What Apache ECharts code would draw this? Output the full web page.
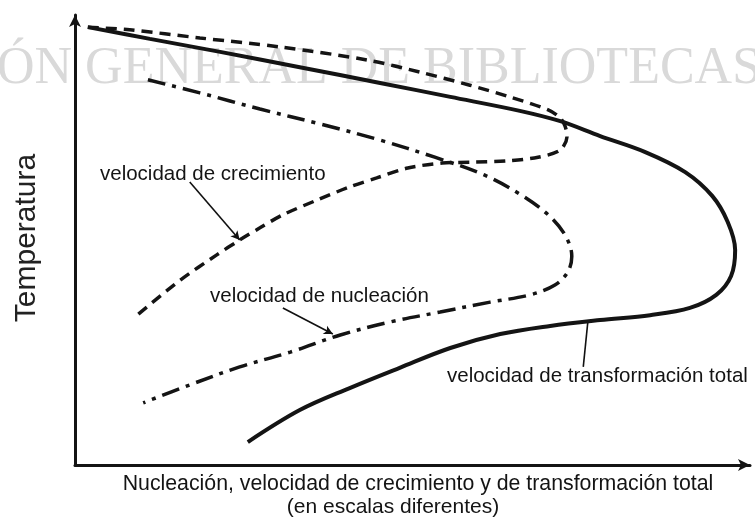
<!DOCTYPE html>
<html>
<head>
<meta charset="utf-8">
<script src="https://cdn.jsdelivr.net/npm/echarts@6/dist/echarts.min.js"></script>
<style>
html, body { margin: 0; padding: 0; background: #fff; }
#main { width: 755px; height: 524px; }
</style>
</head>
<body>
<div id="main"></div>
<script>
// values (arbitrary 0..100 scales, both axes)
var transX = [1.9, 11.1, 21.5, 33.3, 45.2, 55.6, 65.9, 71.9, 77.8, 84.4, 90.4, 94.4, 96.7, 97.8, 97.2, 95.0, 91.1, 85.2, 77.8, 70.4, 63.0, 55.6, 48.1, 40.7, 33.3, 25.6];
var transY = [97.3, 94.7, 91.8, 88.4, 84.9, 81.8, 78.7, 76.4, 73.1, 69.6, 65.1, 59.8, 54.0, 47.8, 42.0, 37.8, 34.9, 33.3, 32.2, 30.9, 29.1, 26.0, 21.6, 17.1, 12.2, 5.1];

var growX = [1.9, 8.1, 18.5, 30.4, 43.3, 51.1, 58.5, 64.4, 70.1, 71.9, 72.6, 72.9, 71.9, 68.6, 64.1, 59.3, 54.4, 49.3, 44.7, 40.7, 35.9, 30.8, 27.4, 24.4, 21.0, 15.6, 9.2];
var growY = [97.3, 96.7, 94.9, 92.9, 90.0, 87.3, 84.4, 81.8, 78.9, 77.1, 75.3, 73.1, 70.0, 68.4, 67.6, 67.3, 67.1, 66.0, 63.8, 61.8, 58.9, 55.6, 52.7, 50.0, 46.7, 41.1, 33.3];

var nuclX = [10.8, 18.5, 27.4, 36.3, 45.2, 53.3, 60.7, 65.9, 70.1, 72.6, 73.6, 73.0, 71.1, 67.4, 61.5, 54.1, 46.7, 39.3, 31.9, 24.4, 17.0, 10.1];
var nuclY = [85.6, 82.7, 79.1, 75.8, 72.2, 68.4, 64.4, 60.2, 55.6, 51.1, 46.4, 42.9, 40.0, 37.8, 36.2, 34.0, 31.8, 28.9, 25.1, 21.8, 17.8, 13.8];

// pointer lines: [x0, y0, x1, y1]
var growPointer = [17.0, 62.9, 24.4, 50.0];
var nuclPointer = [30.8, 34.9, 38.2, 29.1];
var transPointer = [76.0, 32.2, 75.3, 21.8];

var labelGrow = 'velocidad de crecimiento';
var labelNucl = 'velocidad de nucleación';
var labelTrans = 'velocidad de transformación total';
var xTitle1 = 'Nucleación, velocidad de crecimiento y de transformación total';
var xTitle2 = '(en escalas diferentes)';
var yTitle = 'Temperatura';
var watermark = 'ÓN GENERAL DE BIBLIOTECAS';

function pairs(xs, ys) {
    var out = [];
    for (var i = 0; i < xs.length; i++) out.push([xs[i], ys[i]]);
    return out;
}

function pointer(p, arrow) {
    return {
        silent: true,
        symbol: ['none', arrow ? 'arrow' : 'none'],
        symbolSize: [7, 9],
        label: { show: false },
        lineStyle: { color: '#111', width: 1.6, type: 'solid' },
        data: [[{ coord: [p[0], p[1]] }, { coord: [p[2], p[3]] }]]
    };
}

var chartDom = document.getElementById('main');
var myChart = echarts.init(chartDom);
var option;

var ink = '#141414';
var font = '"Liberation Sans", Arial, sans-serif';

option = {
    animation: false,
    backgroundColor: '#fff',
    grid: { left: 75, right: 5, top: 15, bottom: 59 },
    xAxis: {
        type: 'value', min: 0, max: 100,
        axisLine: { show: true, symbol: ['none', 'arrow'], symbolSize: [9, 12], lineStyle: { color: ink, width: 3 } },
        axisTick: { show: false }, axisLabel: { show: false }, splitLine: { show: false }
    },
    yAxis: {
        type: 'value', min: 0, max: 100,
        axisLine: { show: true, symbol: ['none', 'arrow'], symbolSize: [9, 12], lineStyle: { color: ink, width: 3 } },
        axisTick: { show: false }, axisLabel: { show: false }, splitLine: { show: false }
    },
    graphic: [
        { type: 'text', z: 0, silent: true, left: -3, top: 43,
          style: { text: watermark, fill: '#d9d9d9', font: '52px "Liberation Serif", "Times New Roman", serif' } },
        { type: 'text', z: 10, left: 100, top: 164, style: { text: labelGrow, fill: ink, font: '20.5px ' + font } },
        { type: 'text', z: 10, left: 210, top: 286, style: { text: labelNucl, fill: ink, font: '20.5px ' + font } },
        { type: 'text', z: 10, left: 447, top: 366, style: { text: labelTrans, fill: ink, font: '20.5px ' + font } },
        { type: 'text', z: 10, x: 418, y: 484, style: { text: xTitle1, fill: ink, font: '21.3px ' + font, align: 'center', verticalAlign: 'middle' } },
        { type: 'text', z: 10, x: 393, y: 507, style: { text: xTitle2, fill: ink, font: '21px ' + font, align: 'center', verticalAlign: 'middle' } },
        { type: 'text', z: 10, x: 27, y: 238, rotation: Math.PI / 2,
          style: { text: yTitle, fill: '#222', font: '30px ' + font, align: 'center', verticalAlign: 'middle' } }
    ],
    series: [
        {
            name: 'transformación total', type: 'line', showSymbol: false, smooth: 0.35, z: 5,
            lineStyle: { color: ink, width: 4 },
            data: pairs(transX, transY),
            markLine: pointer(transPointer, false)
        },
        {
            name: 'crecimiento', type: 'line', showSymbol: false, smooth: 0.3, z: 4,
            lineStyle: { color: ink, width: 3.5, type: [11, 7] },
            data: pairs(growX, growY),
            markLine: pointer(growPointer, true)
        },
        {
            name: 'nucleación', type: 'line', showSymbol: false, smooth: 0.35, z: 4,
            lineStyle: { color: ink, width: 3.5, type: [18, 7, 4, 7] },
            data: pairs(nuclX, nuclY),
            markLine: pointer(nuclPointer, true)
        }
    ]
};

option && myChart.setOption(option);
</script>
</body>
</html>
